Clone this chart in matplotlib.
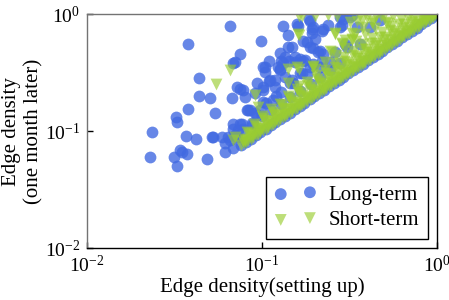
import matplotlib
matplotlib.use('Agg')
import matplotlib.pyplot as plt
from matplotlib.ticker import NullLocator, LogLocator
import numpy as np

plt.rcParams['font.family'] = 'serif'
plt.rcParams['font.serif'] = ['Liberation Serif', 'DejaVu Serif']
plt.rcParams['mathtext.fontset'] = 'stix'
plt.rcParams['axes.unicode_minus'] = False

# long-term groups, scattered points
long_x = [0.0376, 0.0437, 0.0437, 0.0505, 0.0379, 0.0323, 0.0326, 0.0541, 0.0234, 0.0366,
          0.0418, 0.0518, 0.0589, 0.0228, 0.0316, 0.0327, 0.0348, 0.0371, 0.0483, 0.034,
          0.0656, 0.131, 0.0987, 0.0748, 0.0701, 0.110, 0.104, 0.140, 0.141, 0.161,
          0.127, 0.129, 0.143, 0.165, 0.186, 0.196, 0.188, 0.0748, 0.109, 0.119,
          0.102, 0.127, 0.0671, 0.080, 0.239, 0.279, 0.285, 0.326, 0.219, 0.192,
          0.180, 0.196, 0.210, 0.124, 0.104, 0.0933, 0.102, 0.0912, 0.102, 0.0835,
          0.0933, 0.0686, 0.0732, 0.0642, 0.0615, 0.135, 0.154, 0.176, 0.169, 0.135,
          0.119, 0.148, 0.0686, 0.0615, 0.0527, 0.0766, 0.0854, 0.0912, 0.0891,
          0.158, 0.188, 0.192, 0.224, 0.172, 0.201, 0.214, 0.154, 0.172, 0.196,
          0.224, 0.279, 0.291, 0.148, 0.318, 0.349, 0.414, 0.306, 0.363, 0.472,
          0.0686, 0.102, 0.127, 0.111, 0.0782, 0.0717, 0.0818, 0.0975, 0.0748, 0.0686,
          0.0717, 0.0656, 0.116, 0.106, 0.129, 0.145, 0.165, 0.188, 0.214, 0.245, 0.132]
long_y = [0.551, 0.286, 0.198, 0.191, 0.153, 0.131, 0.119, 0.142, 0.0987, 0.0906,
          0.0849, 0.0884, 0.0884, 0.0603, 0.0596, 0.0502, 0.0665, 0.0636, 0.0577, 0.0688,
          0.785, 0.785, 0.591, 0.455, 0.391, 0.399, 0.350, 0.662, 0.519, 0.785,
          0.461, 0.399, 0.399, 0.412, 0.906, 0.769, 0.519, 0.229, 0.269, 0.273,
          0.236, 0.339, 0.190, 0.196, 0.805, 0.948, 0.805, 0.98, 0.720, 0.684,
          0.580, 0.509, 0.476, 0.355, 0.321, 0.256, 0.224, 0.210, 0.178, 0.151,
          0.137, 0.116, 0.102, 0.0894, 0.0785, 0.432, 0.391, 0.405, 0.311, 0.291,
          0.239, 0.273, 0.0711, 0.0665, 0.0894, 0.116, 0.151, 0.142, 0.116,
          0.822, 0.876, 0.744, 0.744, 0.591, 0.611, 0.486, 0.427, 0.399, 0.374,
          0.455, 0.769, 0.906, 0.519, 0.94, 0.774, 0.774, 0.523, 0.554, 0.889,
          0.379, 0.355, 0.332, 0.273, 0.224, 0.239, 0.151, 0.151, 0.116, 0.105,
          0.0894, 0.0838, 0.184, 0.173, 0.217, 0.256, 0.311, 0.355, 0.355, 0.391, 0.379]

# long-term groups close to the diagonal
long_band_x = [0.076, 0.081, 0.086, 0.092, 0.098, 0.105, 0.112, 0.119, 0.127, 0.135,
               0.144, 0.154, 0.164, 0.175, 0.187, 0.199, 0.212, 0.226, 0.241, 0.257,
               0.274, 0.292, 0.312, 0.332, 0.354, 0.378, 0.403, 0.43, 0.458, 0.488,
               0.52, 0.555, 0.592, 0.631, 0.673, 0.717, 0.765, 0.815, 0.869, 0.927,
               0.975, 1.0,
               0.07, 0.078, 0.088, 0.1, 0.113, 0.128, 0.145, 0.165, 0.19, 0.215,
               0.245, 0.28, 0.12, 0.15, 0.18, 0.22, 0.26, 0.3]
long_band_y = [0.076, 0.081, 0.086, 0.092, 0.098, 0.105, 0.112, 0.119, 0.127, 0.135,
               0.144, 0.154, 0.164, 0.175, 0.187, 0.199, 0.212, 0.226, 0.241, 0.257,
               0.274, 0.292, 0.312, 0.332, 0.354, 0.378, 0.403, 0.43, 0.458, 0.488,
               0.52, 0.555, 0.592, 0.631, 0.673, 0.717, 0.765, 0.815, 0.869, 0.927,
               0.975, 1.0,
               0.093, 0.105, 0.118, 0.134, 0.152, 0.172, 0.196, 0.222, 0.255, 0.29,
               0.33, 0.38, 0.2, 0.26, 0.31, 0.4, 0.47, 0.56]

# short-term groups, scattered points
short_x = [0.0546, 0.0656, 0.163, 0.141, 0.163, 0.141, 0.163, 0.163, 0.196, 0.261,
           0.326, 0.326, 0.285, 0.250, 0.0952, 0.0912, 0.080, 0.0701, 0.371, 0.424,
           0.527, 0.318, 0.161, 0.261, 0.326, 0.285, 0.245, 0.196, 0.158, 0.396,
           0.348, 0.0686]
short_y = [0.251, 0.332, 0.666, 0.339, 0.339, 0.256, 0.244, 0.97, 0.361, 0.684,
           0.684, 0.600, 0.562, 0.476, 0.161, 0.203, 0.0838, 0.0894, 0.889, 0.833,
           0.833, 0.86, 0.675, 0.675, 0.611, 0.554, 0.486, 0.350, 0.350, 0.937,
           0.876, 0.0838]

# short-term groups close to the diagonal
short_band_x = [0.076, 0.081, 0.086, 0.092, 0.098, 0.105, 0.112, 0.119, 0.127, 0.135,
                0.144, 0.154, 0.164, 0.175, 0.187, 0.199, 0.212, 0.226, 0.241, 0.257,
                0.274, 0.292, 0.312, 0.332, 0.354, 0.378, 0.403, 0.43, 0.458, 0.488,
                0.52, 0.555, 0.592, 0.631, 0.673, 0.717, 0.765, 0.815, 0.869, 0.927,
                0.975, 1.0,
                0.0785, 0.0835, 0.089, 0.095, 0.1015, 0.1085, 0.1155, 0.123, 0.131, 0.1395,
                0.149, 0.159, 0.1695, 0.181, 0.193, 0.2055, 0.219, 0.2335, 0.249, 0.2655,
                0.283, 0.302, 0.322, 0.343, 0.366, 0.3905, 0.4165, 0.444, 0.473, 0.504,
                0.5375, 0.5735, 0.6115, 0.652, 0.695, 0.741, 0.79, 0.842, 0.898, 0.951,
                0.078, 0.087, 0.097, 0.108, 0.12, 0.133, 0.148, 0.164, 0.182, 0.202,
                0.224, 0.249, 0.276, 0.306, 0.34, 0.377, 0.418, 0.464, 0.515, 0.571,
                0.634, 0.703, 0.78, 0.866, 0.95,
                0.084, 0.095, 0.108, 0.122, 0.138, 0.156, 0.176, 0.2, 0.226, 0.256,
                0.29, 0.328, 0.372, 0.42, 0.476, 0.54, 0.61, 0.69, 0.78, 0.88,
                0.08, 0.089, 0.1, 0.113, 0.127, 0.143, 0.161, 0.181, 0.204, 0.23,
                0.26, 0.293, 0.33, 0.372, 0.42, 0.47, 0.53, 0.6, 0.67, 0.75, 0.84, 0.94,
                0.082, 0.092, 0.104, 0.117, 0.132, 0.149, 0.168, 0.19, 0.214, 0.242,
                0.273, 0.308, 0.348, 0.392, 0.443, 0.5, 0.564, 0.636, 0.718, 0.81,
                0.09, 0.101, 0.115, 0.13, 0.147, 0.166, 0.188, 0.213, 0.241, 0.272,
                0.308, 0.348, 0.394, 0.446, 0.505, 0.57, 0.645, 0.73,
                0.1, 0.113, 0.127, 0.143, 0.161, 0.182, 0.205, 0.231, 0.261, 0.294,
                0.332, 0.374, 0.422, 0.476, 0.537, 0.605, 0.68,
                0.14, 0.158, 0.18, 0.204, 0.23, 0.26, 0.295, 0.333, 0.377, 0.427,
                0.483, 0.546, 0.62,
                0.2, 0.23, 0.265, 0.3, 0.345, 0.39, 0.445, 0.51, 0.56,
                0.3, 0.34, 0.38, 0.43, 0.48,
                0.17, 0.2, 0.24, 0.27, 0.45, 0.5]
short_band_y = [0.076, 0.081, 0.086, 0.092, 0.098, 0.105, 0.112, 0.119, 0.127, 0.135,
                0.144, 0.154, 0.164, 0.175, 0.187, 0.199, 0.212, 0.226, 0.241, 0.257,
                0.274, 0.292, 0.312, 0.332, 0.354, 0.378, 0.403, 0.43, 0.458, 0.488,
                0.52, 0.555, 0.592, 0.631, 0.673, 0.717, 0.765, 0.815, 0.869, 0.927,
                0.975, 1.0,
                0.0785, 0.0835, 0.089, 0.095, 0.1015, 0.1085, 0.1155, 0.123, 0.131, 0.1395,
                0.149, 0.159, 0.1695, 0.181, 0.193, 0.2055, 0.219, 0.2335, 0.249, 0.2655,
                0.283, 0.302, 0.322, 0.343, 0.366, 0.3905, 0.4165, 0.444, 0.473, 0.504,
                0.5375, 0.5735, 0.6115, 0.652, 0.695, 0.741, 0.79, 0.842, 0.898, 0.951,
                0.082, 0.091, 0.102, 0.113, 0.126, 0.14, 0.155, 0.172, 0.191, 0.212,
                0.235, 0.261, 0.29, 0.321, 0.357, 0.396, 0.439, 0.487, 0.541, 0.6,
                0.666, 0.738, 0.819, 0.909, 0.998,
                0.096, 0.107, 0.122, 0.138, 0.155, 0.176, 0.199, 0.226, 0.256, 0.29,
                0.33, 0.372, 0.42, 0.478, 0.54, 0.61, 0.69, 0.78, 0.88, 0.99,
                0.085, 0.095, 0.107, 0.121, 0.136, 0.153, 0.172, 0.194, 0.219, 0.247,
                0.279, 0.315, 0.355, 0.4, 0.452, 0.506, 0.57, 0.645, 0.72, 0.805, 0.9, 0.99,
                0.098, 0.11, 0.125, 0.14, 0.158, 0.179, 0.202, 0.228, 0.257, 0.29,
                0.328, 0.37, 0.418, 0.47, 0.532, 0.6, 0.677, 0.763, 0.862, 0.972,
                0.114, 0.129, 0.146, 0.166, 0.186, 0.211, 0.239, 0.27, 0.306, 0.345,
                0.39, 0.442, 0.5, 0.566, 0.64, 0.724, 0.82, 0.93,
                0.135, 0.153, 0.171, 0.193, 0.217, 0.246, 0.277, 0.312, 0.352, 0.397,
                0.448, 0.505, 0.57, 0.643, 0.725, 0.817, 0.92,
                0.2, 0.228, 0.262, 0.3, 0.335, 0.38, 0.43, 0.485, 0.55, 0.62,
                0.7, 0.79, 0.9,
                0.34, 0.39, 0.45, 0.51, 0.59, 0.67, 0.76, 0.86, 0.96,
                0.6, 0.68, 0.77, 0.87, 0.97,
                0.97, 0.97, 0.98, 0.96, 0.96, 0.98]

lx = np.array(long_x + long_band_x)
ly = np.array(long_y + long_band_y)
sx = np.array(short_x + short_band_x)
sy = np.array(short_y + short_band_y)

fig = plt.figure(figsize=(4.49, 3.0), dpi=100)
ax = fig.add_axes([0.194, 0.173, 0.779, 0.78])

ax.scatter(lx, ly, s=72, marker='o', color='royalblue', alpha=0.8,
           linewidths=0, label='Long-term')
ax.scatter(sx, sy, s=72, marker='v', color='yellowgreen', alpha=0.65,
           linewidths=0, label='Short-term')

ax.set_xscale('log')
ax.set_yscale('log')
ax.set_xlim(0.01, 1)
ax.set_ylim(0.01, 1)
ax.xaxis.set_major_locator(LogLocator(base=10))
ax.yaxis.set_major_locator(LogLocator(base=10))
ax.xaxis.set_minor_locator(NullLocator())
ax.yaxis.set_minor_locator(NullLocator())
ax.tick_params(direction='in', length=4, width=1, labelsize=14, pad=5)

for side in ['left', 'top']:
	ax.spines[side].set_color('0.45')
for side in ['bottom', 'right']:
	ax.spines[side].set_color('black')
for side in ax.spines:
	ax.spines[side].set_linewidth(1.0)

ax.set_xlabel('Edge density(setting up)', fontsize=15, labelpad=1)
ax.set_ylabel('Edge density\n(one month later)', fontsize=15, labelpad=1)

leg = ax.legend(loc='lower right', scatterpoints=2, fontsize=15, fancybox=False,
                edgecolor='black', framealpha=1, borderaxespad=0.45,
                handletextpad=0.6, borderpad=0.4, labelspacing=0.3)
leg.get_frame().set_linewidth(1.0)

plt.savefig('out.png', dpi=100)
